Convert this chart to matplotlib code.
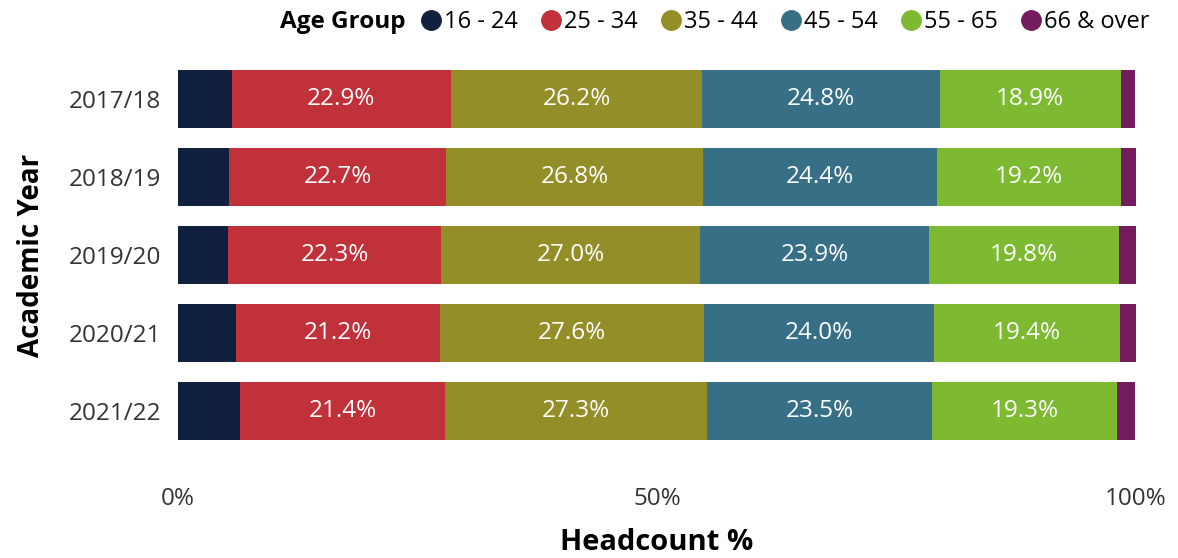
import matplotlib
matplotlib.use("Agg")
import matplotlib.pyplot as plt
from matplotlib.lines import Line2D
import numpy as np

plt.rcParams['font.family'] = ['Open Sans', 'DejaVu Sans']

years = ["2017/18", "2018/19", "2019/20", "2020/21", "2021/22"]
groups = ["16 - 24", "25 - 34", "35 - 44", "45 - 54", "55 - 65", "66 & over"]
colors = ["#12203F", "#C0313A", "#938E27", "#376F86", "#7DBA32", "#751C5E"]

age_16_24 = [5.6, 5.3, 5.2, 6.1, 6.5]
age_25_34 = [22.9, 22.7, 22.3, 21.2, 21.4]
age_35_44 = [26.2, 26.8, 27.0, 27.6, 27.3]
age_45_54 = [24.8, 24.4, 23.9, 24.0, 23.5]
age_55_65 = [18.9, 19.2, 19.8, 19.4, 19.3]
age_66_over = [1.5, 1.6, 1.8, 1.7, 1.9]

series = [age_16_24, age_25_34, age_35_44, age_45_54, age_55_65, age_66_over]
labelled = [False, True, True, True, True, False]

fig = plt.figure(figsize=(11.78, 5.58), dpi=100)
W, H = 1178, 558
x0, x1 = 178, 1136
ytop, ybot = 52.2, 457.8
ax = fig.add_axes([x0 / W, 1 - ybot / H, (x1 - x0) / W, (ybot - ytop) / H])

y = np.arange(len(years))
left = np.zeros(len(years))
for vals, col, name, lab in zip(series, colors, groups, labelled):
    vals = np.array(vals)
    ax.barh(y, vals, left=left, height=0.74, color=col, label=name,
            edgecolor='none')
    if lab:
        for yi, l, v in zip(y, left, vals):
            ax.text(l + v / 2, yi, f"{v:.1f}%", ha='center', va='center',
                    color='white', fontsize=17.5)
    left += vals

ax.set_xlim(0, 100)
ax.set_ylim(len(years) - 1 + 0.6, -0.6)
ax.set_yticks(y)
ax.set_yticklabels(years, fontsize=17.5, color='#333333')
ax.set_xticks([0, 50, 100])
ax.set_xticklabels(["0%", "50%", "100%"], fontsize=17.5, color='#333333')
ax.tick_params(length=0)
ax.tick_params(axis='x', pad=21)
ax.tick_params(axis='y', pad=12)
for s in ax.spines.values():
    s.set_visible(False)

ax.set_xlabel("Headcount %", fontsize=21, fontweight='bold', labelpad=12)
ax.set_ylabel("Academic Year", fontsize=20, fontweight='bold', labelpad=16)

fig.text(280 / W, 1 - 22 / H, "Age Group", fontsize=17.5, fontweight='bold',
         ha='left', va='center')
handles = [Line2D([0], [0], marker='o', color='none', markerfacecolor=c,
                  markeredgecolor=c, markersize=14) for c in colors]
fig.legend(handles, groups, loc='center left', bbox_to_anchor=(422 / W, 1 - 22 / H),
           ncol=6, frameon=False, fontsize=17, handlelength=0.8,
           handletextpad=0.15, columnspacing=1.0, borderpad=0, borderaxespad=0)

fig.savefig("out.png", dpi=100, facecolor='white')
